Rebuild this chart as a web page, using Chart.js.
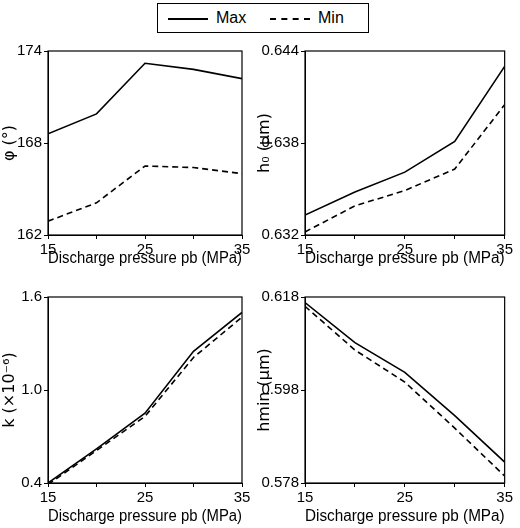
<!DOCTYPE html>
<html>
<head>
<script src="https://cdn.jsdelivr.net/npm/chart.js@4"></script>
<style>
body { margin: 0; background: #fff; width: 520px; height: 528px; position: relative; font-family: "Liberation Sans", Arial, sans-serif; overflow: hidden; }
.box { position: absolute; }
#legend { position: absolute; left: 157px; top: 3px; width: 212px; height: 30px; border: 1px solid #000; box-sizing: border-box; font-size: 16px; }
#legend span { position: absolute; top: 5px; }
#legend i { position: absolute; top: 14px; width: 40px; border-top: 2px solid #000; }
</style>
</head>
<body>
<div id="legend">
  <i style="left:10px"></i><span style="left:58px">Max</span>
  <i style="left:112px;border-top-style:dashed"></i><span style="left:160px">Min</span>
</div>
<div class="box" style="left:0;top:40px;width:255px;height:228px"><canvas id="c1"></canvas></div>
<div class="box" style="left:255px;top:40px;width:260px;height:228px"><canvas id="c2"></canvas></div>
<div class="box" style="left:0;top:286px;width:255px;height:240px"><canvas id="c3"></canvas></div>
<div class="box" style="left:255px;top:286px;width:260px;height:240px"><canvas id="c4"></canvas></div>
<script>
const pressures = [15, 20, 25, 30, 35];

const phiMax = [168.6, 169.9, 173.2, 172.8, 172.2];
const phiMin = [162.9, 164.1, 166.5, 166.4, 166.0];
const h0Max = [0.6333, 0.6348, 0.6361, 0.6381, 0.6430];
const h0Min = [0.6322, 0.6339, 0.6349, 0.6363, 0.6405];
const kMax = [0.40, 0.62, 0.85, 1.25, 1.50];
const kMin = [0.39, 0.61, 0.83, 1.21, 1.47];
const hminMax = [0.6168, 0.6082, 0.6018, 0.5925, 0.5825];
const hminMin = [0.6160, 0.6066, 0.5997, 0.5898, 0.5795];

const xTickLabels = [15, 25, 35];

const frame = {
  id: 'frame',
  afterDraw(chart) {
    const a = chart.chartArea, c = chart.ctx;
    c.save();
    c.strokeStyle = '#000';
    c.lineWidth = 1.2;
    c.strokeRect(a.left, a.top, a.right - a.left, a.bottom - a.top);
    c.restore();
  }
};

function makeChart(id, maxData, minData, yMin, yMax, yStep, yTitle, digits, yWidth, rightPad, xHeight) {
  new Chart(document.getElementById(id), {
    type: 'line',
    data: {
      labels: pressures,
      datasets: [
        { data: maxData.map((v, i) => ({ x: pressures[i], y: v })), borderColor: '#000', borderWidth: 1.6, pointRadius: 0, tension: 0 },
        { data: minData.map((v, i) => ({ x: pressures[i], y: v })), borderColor: '#000', borderWidth: 1.6, borderDash: [6, 4], pointRadius: 0, tension: 0 }
      ]
    },
    options: {
      responsive: true,
      maintainAspectRatio: false,
      animation: false,
      layout: { padding: { top: 7, right: rightPad, left: 0, bottom: 0 } },
      plugins: { legend: { display: false }, tooltip: { enabled: false } },
      scales: {
        x: {
          type: 'linear', min: 15, max: 35,
          grid: { drawOnChartArea: false, color: '#000', tickLength: 4 },
          border: { color: '#000' },
          ticks: {
            stepSize: 5, color: '#000', font: { size: 15, family: 'Liberation Sans' }, padding: 2, maxRotation: 0,
            callback: v => xTickLabels.includes(v) ? String(v) : ''
          },
          title: { display: true, text: 'Discharge pressure pb (MPa)', color: '#000', font: { size: 16, family: 'Liberation Sans' }, padding: 0 },
          afterFit: s => { s.height = xHeight; }
        },
        y: {
          min: yMin, max: yMax,
          grid: { drawOnChartArea: false, color: '#000', tickLength: 4 },
          border: { color: '#000' },
          ticks: { stepSize: yStep, color: '#000', font: { size: 15, family: 'Liberation Sans' }, padding: 2, callback: v => v.toFixed(digits) },
          title: { display: true, text: yTitle, color: '#000', font: { size: 16, family: 'DejaVu Sans' }, padding: 0 },
          afterFit: s => { s.width = yWidth; }
        }
      }
    },
    plugins: [frame]
  });
}

makeChart('c1', phiMax, phiMin, 162, 174, 6, 'φ (°)', 0, 48, 13, 33);
makeChart('c2', h0Max, h0Min, 0.632, 0.644, 0.006, 'h₀ (μm)', 3, 50, 10, 33);
makeChart('c3', kMax, kMin, 0.4, 1.6, 0.6, 'k (×10⁻⁶)', 1, 48, 13, 43);
makeChart('c4', hminMax, hminMin, 0.578, 0.618, 0.02, 'hmin (μm)', 3, 50, 10, 43);
</script>
</body>
</html>
